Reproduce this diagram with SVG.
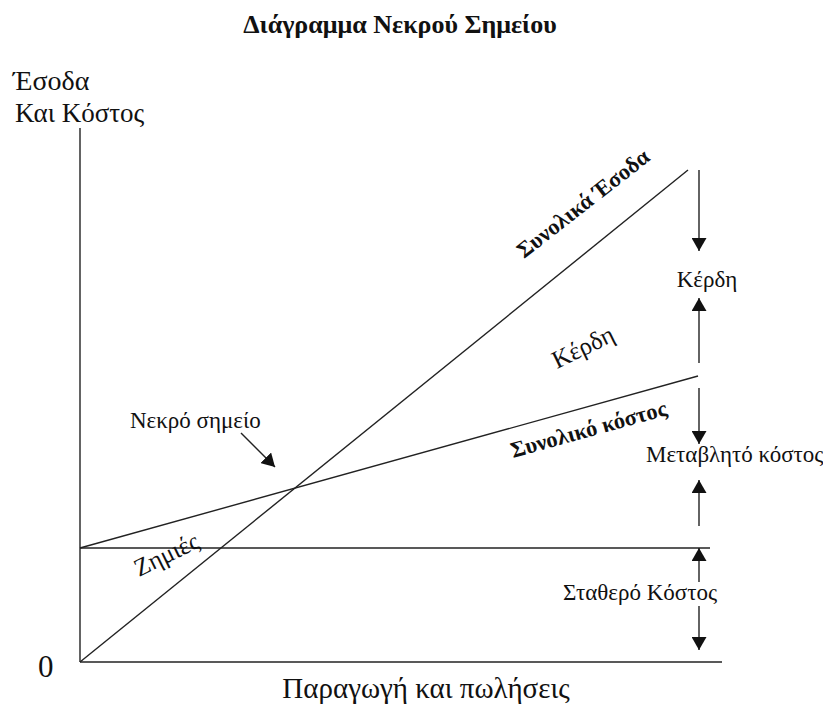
<svg xmlns="http://www.w3.org/2000/svg" width="823" height="716" viewBox="0 0 823 716">
<style>
  text { font-family: "Liberation Serif", "Times New Roman", serif; fill: #111; }
  .title { font-size: 26px; font-weight: bold; }
  .axis-label { font-size: 28px; }
  .lbl { font-size: 23px; }
  .blbl { font-size: 22.5px; font-weight: bold; }
  .ln { stroke: #222; stroke-width: 1.4; fill: none; }
  .arr { stroke: #222; stroke-width: 1.4; fill: none; marker-end: url(#ah); }
</style>
<defs>
  <marker id="ah" markerUnits="userSpaceOnUse" markerWidth="14" markerHeight="15" viewBox="0 0 14 15" refX="13" refY="7.5" orient="auto">
    <path d="M0,0 L13,7.5 L0,15 z" fill="#111"/>
  </marker>
</defs>
<rect width="823" height="716" fill="#fff"/>
<g id="title"><text class="title" x="400" y="33" text-anchor="middle">Διάγραμμα Νεκρού Σημείου</text></g>
<g id="y-axis-label">
  <text class="axis-label" x="13" y="90">Έσοδα</text>
  <text class="axis-label" x="15" y="122" style="font-size:27px">Και Κόστος</text>
</g>
<g id="origin"><text x="38" y="677" style="font-size:31px">0</text></g>
<g id="x-axis-label"><text class="axis-label" x="426" y="698" text-anchor="middle" style="font-size:29px">Παραγωγή και πωλήσεις</text></g>
<g id="connectors">
  <line class="ln" x1="80" y1="128" x2="80" y2="662"/>
  <line class="ln" x1="80" y1="662" x2="722" y2="662"/>
  <line class="ln" x1="80" y1="548" x2="710" y2="548"/>
  <line class="ln" x1="80" y1="662" x2="688" y2="170"/>
  <line class="ln" x1="80" y1="548" x2="698" y2="376"/>
  <line class="arr" x1="699" y1="170" x2="699" y2="251"/>
  <line class="arr" x1="699" y1="363" x2="699" y2="298"/>
  <line class="arr" x1="699" y1="388" x2="699" y2="444"/>
  <line class="arr" x1="699" y1="526" x2="699" y2="480"/>
  <line class="arr" x1="699" y1="582" x2="699" y2="548"/>
  <line class="arr" x1="699" y1="606" x2="699" y2="650"/>
  <line class="arr" x1="241" y1="433" x2="275" y2="467"/>
</g>
<g id="total-revenue-label"><text class="blbl" transform="translate(524,259) rotate(-38)">Συνολικά Έσοδα</text></g>
<g id="total-cost-label"><text class="blbl" transform="translate(513,458) rotate(-15.5)">Συνολικό κόστος</text></g>
<g id="profit-zone-label"><text class="lbl" style="font-size:25px" transform="translate(557,369) rotate(-26)">Κέρδη</text></g>
<g id="loss-zone-label"><text class="lbl" style="font-size:25px" transform="translate(139,577) rotate(-26)">Ζημιές</text></g>
<g id="breakeven-label"><text class="lbl" x="130" y="428">Νεκρό σημείο</text></g>
<g id="profit-label"><text class="lbl" x="707" y="287" text-anchor="middle">Κέρδη</text></g>
<g id="variable-cost-label"><text class="lbl" x="646" y="462">Μεταβλητό κόστος</text></g>
<g id="fixed-cost-label"><text class="lbl" x="563" y="600">Σταθερό Κόστος</text></g>
</svg>
